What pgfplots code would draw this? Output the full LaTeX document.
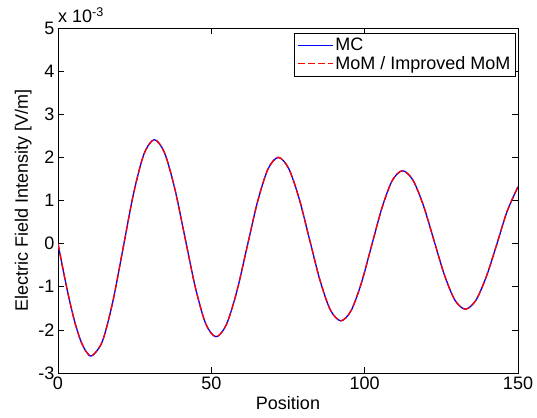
\documentclass[border=0pt]{standalone}
\usepackage{pgfplots}
\usepackage{pgfplotstable}
\usepackage{fontspec}
\setmainfont{Liberation Sans}
\pgfplotsset{compat=1.18}

% field along the line, in units of 1e-3 V/m
\pgfplotstableread{
x y
0 0
1.85 -0.673
3.7 -1.30
5.55 -1.838
7.4 -2.252
9.25 -2.511
11.1 -2.60
14.48 -2.264
17.87 -1.348
21.25 -0.095
24.63 1.158
28.02 2.074
31.4 2.41
34.75 2.104
38.1 1.268
41.45 0.125
44.8 -1.018
48.15 -1.854
51.5 -2.16
54.88 -1.881
58.27 -1.12
61.65 -0.08
65.03 0.96
68.42 1.721
71.8 2.00
75.2 1.746
78.6 1.053
82.0 0.105
85.4 -0.843
88.8 -1.536
92.2 -1.79
95.55 -1.557
98.9 -0.92
102.25 -0.05
105.6 0.82
108.95 1.457
112.3 1.69
115.72 1.475
119.13 0.888
122.55 0.085
125.97 -0.718
129.38 -1.305
132.8 -1.52
136.2 -1.321
139.6 -0.778
143.0 -0.035
146.4 0.74
150 1.32
}\fielddata

\definecolor{mblue}{RGB}{0,0,255}
\definecolor{mred}{RGB}{255,0,0}

\begin{document}
\begin{tikzpicture}
\begin{axis}[
    scale only axis,
    width=460pt, height=345pt,
    xmin=0, xmax=150, ymin=-3, ymax=5,
    xtick={0,50,100,150},
    ytick={-3,-2,...,5},
    tick align=inside,
    major tick length=6pt,
    tick style={black, line width=0.6pt},
    axis line style={line width=0.8pt},
    font=\fontsize{18}{20}\selectfont,
    /pgf/number format/assume math mode=true,
    xlabel={Position},
    ylabel={Electric Field Intensity [V/m]},
    legend style={at={(0.995,0.985)}, anchor=north east,
        inner sep=3pt, font=\fontsize{18}{21}\selectfont},
    legend cell align=left,
]
\addplot[draw=mblue, line width=1.3pt, smooth,
    legend image code/.code={\draw[draw=mblue, line width=1.3pt] (0cm,0cm) -- (1.22cm,0cm);}]
    table {\fielddata};
\addplot[draw=mred, line width=1.3pt, smooth, dash pattern=on 7pt off 3pt,
    legend image code/.code={\draw[draw=mred, line width=1.3pt, dash pattern=on 7pt off 3pt] (0cm,0cm) -- (1.22cm,0cm);}]
    table {\fielddata};
\legend{MC, MoM / Improved MoM}
\coordinate (bl) at (rel axis cs:0,0);
\coordinate (tr) at (rel axis cs:1,1);
\end{axis}
\node[anchor=south west, inner sep=0pt, yshift=5pt, font=\fontsize{18}{20}\selectfont] at (bl |- tr) {x 10\textsuperscript{-3}};
\path ([shift={(-58pt,-45pt)}]bl) rectangle ([shift={(19pt,28pt)}]tr);
\end{tikzpicture}
\end{document}
